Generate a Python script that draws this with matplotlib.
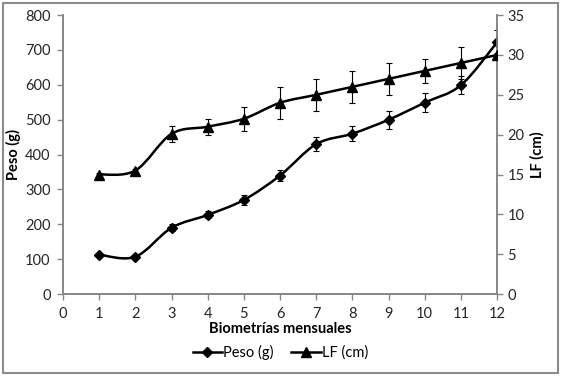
import matplotlib
matplotlib.use('Agg')
import matplotlib.pyplot as plt
import numpy as np
from matplotlib.path import Path
from matplotlib.patches import PathPatch, Rectangle
from matplotlib.lines import Line2D

plt.rcParams['font.family'] = ['Lato', 'DejaVu Sans']

# --- data ---
biometrias = [1, 2, 3, 4, 5, 6, 7, 8, 9, 10, 11, 12]
peso = [113, 107, 190, 227, 270, 340, 430, 460, 500, 549, 599, 722]
peso_err = [4, 4, 10, 10, 14, 17, 21, 22, 26, 28, 25, 35]
lf = [15, 15.5, 20.1, 21, 22, 24, 25, 26, 27, 28, 29, 30]
lf_err = [0.2, 0.2, 1.0, 1.0, 1.5, 2.0, 2.0, 2.0, 2.0, 1.5, 2.0, 0.3]

spine_col = '#868686'


def smooth_path(x, y):
    # Excel-style smoothed line: Catmull-Rom segments as cubic Beziers
    pts = np.column_stack([x, y]).astype(float)
    ext = np.vstack([pts[0], pts, pts[-1]])
    verts = [pts[0]]
    codes = [Path.MOVETO]
    for i in range(1, len(ext) - 2):
        p0, p1, p2, p3 = ext[i - 1], ext[i], ext[i + 1], ext[i + 2]
        c1 = p1 + (p2 - p0) / 6.0
        c2 = p2 - (p3 - p1) / 6.0
        verts += [c1, c2, p2]
        codes += [Path.CURVE4] * 3
    return Path(verts, codes)


fig = plt.figure(figsize=(5.61, 3.78), dpi=100)
fig.patch.set_facecolor('white')
fig.add_artist(Rectangle((0.006, 0.012), 0.988, 0.98, transform=fig.transFigure,
                         fill=False, edgecolor='#8c8c8c', linewidth=1.5))

ax = fig.add_axes([0.1123, 0.222, 0.7737, 0.738])
ax2 = ax.twinx()

ax.add_patch(PathPatch(smooth_path(biometrias, peso), fill=False,
                       edgecolor='black', linewidth=1.8, zorder=3))
ax.errorbar(biometrias, peso, yerr=peso_err, fmt='D', color='black',
            markersize=5.5, elinewidth=0.8, capsize=2.5, capthick=0.8, zorder=4)

ax2.add_patch(PathPatch(smooth_path(biometrias, lf), fill=False,
                        edgecolor='black', linewidth=1.8, zorder=3))
ax2.errorbar(biometrias, lf, yerr=lf_err, fmt='^', color='black',
             markersize=7, elinewidth=0.8, capsize=2.5, capthick=0.8, zorder=4)

ax.set_xlim(0, 12)
ax.set_ylim(0, 800)
ax.set_yticks(range(0, 801, 100))
ax.set_xticks(range(0, 13))
ax2.set_ylim(0, 35)
ax2.set_yticks(range(0, 36, 5))

for a in (ax, ax2):
    a.spines['top'].set_visible(False)
    for s in ('left', 'right', 'bottom'):
        a.spines[s].set_color(spine_col)
        a.spines[s].set_linewidth(1.2)
    a.tick_params(colors=spine_col, labelcolor='#262626', labelsize=10.5,
                  length=4, width=1)
ax.tick_params(axis='y', pad=5)
ax.tick_params(axis='x', pad=5)

ax.set_xlabel('Biometrías mensuales', fontsize=10.5, fontweight='bold', labelpad=1)
ax.set_ylabel('Peso (g)', fontsize=10.5, fontweight='bold', labelpad=3)
ax2.set_ylabel('LF (cm)', fontsize=10.5, fontweight='bold', labelpad=4)

handles = [Line2D([], [], color='black', marker='D', markersize=5.5, linewidth=1.8),
           Line2D([], [], color='black', marker='^', markersize=7, linewidth=1.8)]
fig.legend(handles, ['Peso (g)', 'LF (cm)'], loc='center', bbox_to_anchor=(0.5, 0.068),
           ncol=2, frameon=False, fontsize=10.5, handlelength=2.0,
           handletextpad=0.1, columnspacing=1.2)

fig.savefig('out.png', dpi=100, facecolor='white')
